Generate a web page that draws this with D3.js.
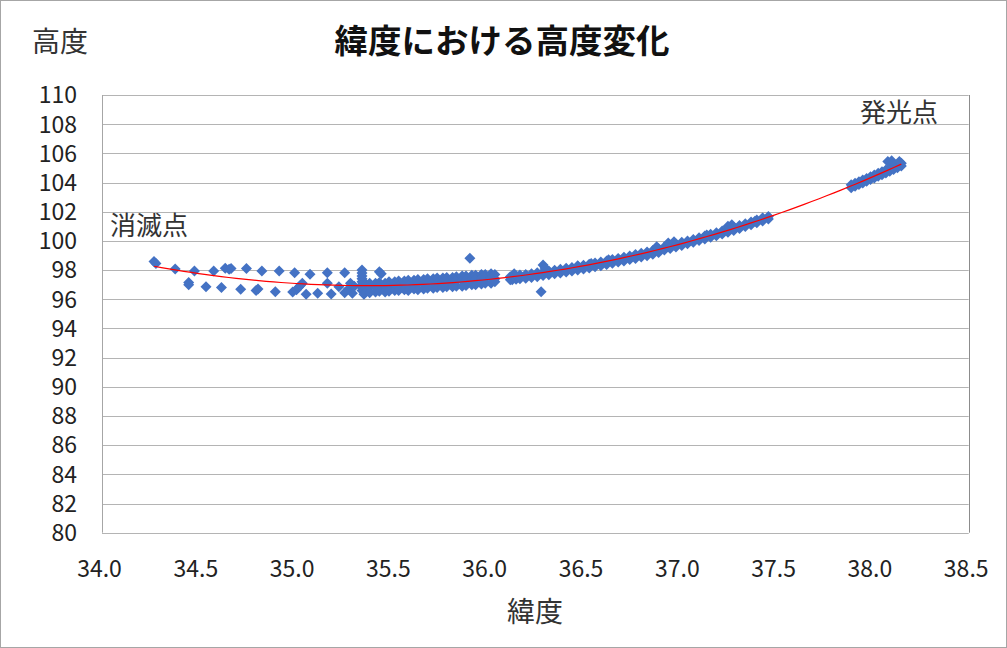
<!DOCTYPE html>
<html><head><meta charset="utf-8">
<script src="https://cdn.jsdelivr.net/npm/d3@7"></script>
<style>
html,body{margin:0;padding:0;background:#fff;}
svg{display:block;}
text{font-family:"Noto Sans CJK JP","Noto Sans",sans-serif;}
</style></head>
<body>
<svg id="chart" width="1007" height="648"></svg>
<script>
// ---- tick labels ----
const xTicks = [34.0, 34.5, 35.0, 35.5, 36.0, 36.5, 37.0, 37.5, 38.0, 38.5];
const yTicks = [80, 82, 84, 86, 88, 90, 92, 94, 96, 98, 100, 102, 104, 106, 108, 110];

// ---- scattered points west of 35.35 (lat, altitude) ----
const westScatter = [
  [34.27,98.58],[34.28,98.45],[34.38,98.08],[34.45,97.15],[34.45,97.0],[34.48,97.94],
  [34.54,96.86],[34.58,97.94],[34.62,96.80],[34.64,98.12],[34.66,98.05],[34.67,98.1],
  [34.72,96.68],[34.75,98.1],[34.80,96.6],[34.81,96.7],[34.83,97.94],[34.90,96.52],
  [34.92,97.94],[34.99,96.5],[35.0,97.82],[35.01,96.65],[35.02,96.8],[35.03,96.95],
  [35.04,97.1],[35.06,96.34],[35.08,97.71],[35.12,96.41],[35.17,97.82],[35.17,97.09],
  [35.19,96.36],[35.23,96.86],[35.26,97.82],[35.26,96.45],[35.28,96.7],[35.29,97.09],
  [35.30,96.41],[35.31,96.9],[35.35,98.0],[35.35,97.8],[35.35,97.6],[35.35,97.4],
  [35.35,97.2],[35.35,97.0],[35.35,96.8],[35.35,96.6],[35.36,96.35],[35.44,97.89],
  [35.45,97.75],[35.91,98.81]
];

// ---- dense band 35.37 - 36.04 ----
const bandLat = [35.37,35.39,35.42,35.44,35.47,35.49,35.52,35.54,35.57,35.59,35.62,35.64,35.67,35.69,
                 35.72,35.74,35.77,35.79,35.82,35.84,35.87,35.89,35.92,35.94,35.97,35.99,36.02,36.04];
const bandTop = [97.05,97.1,97.1,97.15,97.1,97.2,97.2,97.25,97.25,97.3,97.3,97.35,97.35,97.4,
                 97.4,97.45,97.45,97.5,97.5,97.55,97.6,97.6,97.65,97.65,97.7,97.7,97.75,97.7];
const bandMid = [96.8,96.85,96.8,96.85,96.9,96.9,96.95,96.9,97.0,96.95,97.0,97.05,97.05,97.1,
                 97.1,97.15,97.15,97.2,97.2,97.25,97.3,97.3,97.35,97.35,97.4,97.45,97.45,97.4];
const bandLow = [96.5,96.45,96.5,96.55,96.5,96.55,96.6,96.6,96.65,96.6,96.7,96.65,96.7,96.75,
                 96.75,96.8,96.8,96.85,96.85,96.9,96.9,96.95,97.0,97.0,97.05,97.1,97.1,97.2];

// ---- eastern band 36.12 - 37.46 ----
const eastLat = [36.12,36.13,36.15,36.17,36.20,36.23,36.26,36.29,36.32,36.35,36.38,36.41,36.44,36.47,
                 36.50,36.53,36.56,36.59,36.62,36.65,36.68,36.71,36.74,36.77,36.80,36.83,36.86,36.89,
                 36.92,36.95,36.98,37.01,37.04,37.07,37.10,37.13,37.16,37.19,37.22,37.25,37.28,37.31,
                 37.34,37.37,37.40,37.43,37.46];
const eastUpper = [97.54,97.58,97.60,97.66,97.70,97.75,97.82,97.86,97.93,97.99,98.05,98.12,98.18,98.27,
                   98.33,98.40,98.48,98.55,98.63,98.72,98.80,98.88,98.97,99.06,99.16,99.24,99.35,99.46,
                   99.58,99.70,99.78,99.90,100.00,100.10,100.22,100.34,100.45,100.56,100.68,100.82,100.93,101.05,
                   101.18,101.30,101.44,101.57,101.68];
const eastLower = [97.34,97.33,97.37,97.40,97.44,97.50,97.55,97.62,97.68,97.74,97.80,97.86,97.94,98.00,
                   98.08,98.15,98.22,98.30,98.38,98.46,98.55,98.62,98.72,98.80,98.90,98.99,99.08,99.20,
                   99.38,99.48,99.58,99.68,99.80,99.90,100.02,100.13,100.25,100.36,100.48,100.60,100.72,100.85,
                   100.98,101.10,101.24,101.36,101.50];
const eastBumps = [[36.14,97.75],[36.29,98.35],[36.30,98.15],[36.28,96.52],[36.47,98.3],[36.54,98.45],
                   [36.63,98.7],[36.88,99.6],[36.94,99.85],[36.97,99.95],[37.14,100.4],[37.25,101.0],
                   [37.27,101.1],[37.39,101.35],[37.43,101.55]];

// ---- luminous start segment 37.89 - 38.15 ----
const farLat = [37.89,37.91,37.93,37.95,37.97,37.99,38.01,38.03,38.05,38.07,38.09,38.11,38.13,38.15];
const farUpper = [103.84,103.95,104.06,104.18,104.28,104.40,104.52,104.63,104.74,104.86,104.98,105.10,105.22,105.32];
const farLower = [103.64,103.75,103.86,103.97,104.09,104.20,104.31,104.43,104.54,104.66,104.78,104.90,105.02,105.14];
const farBumps = [[38.08,105.45],[38.10,105.5],[38.14,105.45]];

// ---- assemble points ----
const points = [];
westScatter.forEach(d => points.push(d));
bandLat.forEach((la,i) => { points.push([la,bandTop[i]]); points.push([la,bandMid[i]]); points.push([la,bandLow[i]]); });
eastLat.forEach((la,i) => { points.push([la,eastUpper[i]]); points.push([la,eastLower[i]]); });
eastBumps.forEach(d => points.push(d));
farLat.forEach((la,i) => { points.push([la,farUpper[i]]); points.push([la,farLower[i]]); });
farBumps.forEach(d => points.push(d));

// ---- 2nd-order polynomial least-squares trendline (like Excel) ----
function polyFit2(pts){
  const xm = d3.mean(pts, d=>d[0]);
  let S = [[0,0,0],[0,0,0],[0,0,0]], B=[0,0,0];
  pts.forEach(([xx,yy]) => {
    const u = xx - xm, p=[1,u,u*u];
    for(let r=0;r<3;r++){ B[r]+=p[r]*yy; for(let c=0;c<3;c++) S[r][c]+=p[r]*p[c]; }
  });
  const M = S.map((row,i)=>row.concat([B[i]]));
  for(let i=0;i<3;i++){
    for(let k=i+1;k<3;k++){ const f=M[k][i]/M[i][i]; for(let j=i;j<4;j++) M[k][j]-=f*M[i][j]; }
  }
  const c=[0,0,0];
  for(let i=2;i>=0;i--){ let s=M[i][3]; for(let j=i+1;j<3;j++) s-=M[i][j]*c[j]; c[i]=s/M[i][i]; }
  return xx => { const u=xx-xm; return c[0]+c[1]*u+c[2]*u*u; };
}
const trend = polyFit2(points);
const [latMin, latMax] = d3.extent(points, d=>d[0]);

// ---- layout ----
const svg = d3.select("#chart");
const W = 1007, H = 648;
const plot = {l:102, r:968.7, t:95, b:532.7};
const x = d3.scaleLinear().domain([34, 38.5]).range([plot.l, plot.r]);
const y = d3.scaleLinear().domain([80, 110]).range([plot.b, plot.t]);

svg.append("rect").attr("x",0.5).attr("y",0.5).attr("width",W-1).attr("height",H-1)
  .attr("fill","#fff").attr("stroke","#a6a6a6").attr("stroke-width",1);

// gridlines
svg.append("g").selectAll("line").data(yTicks).join("line")
  .attr("x1",plot.l).attr("x2",plot.r)
  .attr("y1",d=>Math.round(y(d))+0.5).attr("y2",d=>Math.round(y(d))+0.5)
  .attr("stroke","#b4b4b4").attr("stroke-width",1);
// plot-area frame
svg.append("line").attr("x1",Math.round(plot.l)+0.5).attr("x2",Math.round(plot.l)+0.5)
  .attr("y1",plot.t).attr("y2",plot.b).attr("stroke","#a6a6a6");
svg.append("line").attr("x1",Math.round(plot.r)+0.5).attr("x2",Math.round(plot.r)+0.5)
  .attr("y1",plot.t).attr("y2",plot.b).attr("stroke","#8c8c8c");

// y axis labels
const yAxis = d3.axisLeft(y).tickValues(yTicks).tickSize(0).tickPadding(0).tickFormat(d3.format("d"));
const gy = svg.append("g").attr("transform","translate(77,0)").call(yAxis);
gy.select(".domain").remove();
gy.selectAll("text").attr("font-size",23).attr("fill","#222")
  .attr("font-family",'"Noto Sans CJK JP","Noto Sans",sans-serif').attr("dy","0.34em");

// x axis labels
const xAxis = d3.axisBottom(x).tickValues(xTicks).tickSize(0).tickPadding(0).tickFormat(d3.format(".1f"));
const gx = svg.append("g").attr("transform","translate(-3,0)").call(xAxis);
gx.select(".domain").remove();
gx.selectAll("text").attr("font-size",23).attr("fill","#222")
  .attr("font-family",'"Noto Sans CJK JP","Noto Sans",sans-serif').attr("y",577).attr("dy",0);

// markers
const diamond = "M0,-5.5L5.5,0L0,5.5L-5.5,0Z";
svg.append("g").selectAll("path").data(points).join("path")
  .attr("d",diamond)
  .attr("transform",d=>`translate(${x(d[0])},${y(d[1])})`)
  .attr("fill","#4472C4");

// trendline
const trendLats = d3.range(0, 101).map(i => latMin + (latMax-latMin)*i/100);
svg.append("path").datum(trendLats)
  .attr("d", d3.line().x(d=>x(d)).y(d=>y(trend(d))))
  .attr("fill","none").attr("stroke","#ff0000").attr("stroke-width",1.2);

// titles
svg.append("text").attr("x",502).attr("y",53).attr("text-anchor","middle")
  .attr("font-size",33.5).attr("font-weight","bold").attr("fill","#111").text("緯度における高度変化");
svg.append("text").attr("x",32).attr("y",52).attr("font-size",28).attr("fill","#333").text("高度");
svg.append("text").attr("x",535).attr("y",622).attr("text-anchor","middle")
  .attr("font-size",28).attr("fill","#333").text("緯度");
svg.append("text").attr("x",860).attr("y",122).attr("font-size",26).attr("fill","#333").text("発光点");
svg.append("text").attr("x",110).attr("y",235).attr("font-size",26).attr("fill","#333").text("消滅点");
</script>
</body></html>
